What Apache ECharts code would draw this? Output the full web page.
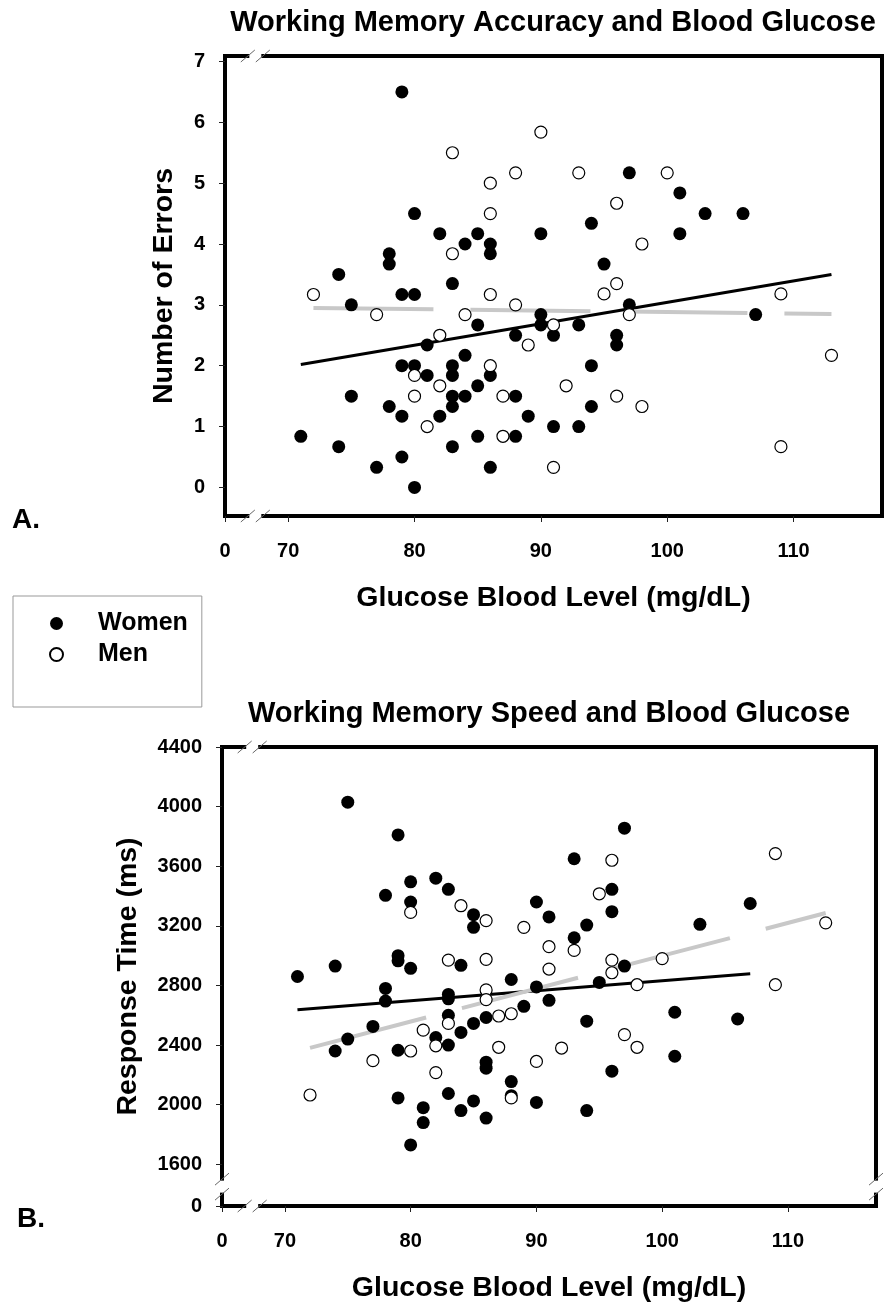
<!DOCTYPE html>
<html>
<head>
<meta charset="utf-8">
<title>Working Memory and Blood Glucose</title>
<script src="https://cdn.jsdelivr.net/npm/echarts@6.0.0/dist/echarts.min.js"></script>
<style>
html, body { margin: 0; padding: 0; background: #fff; }
#main { width: 885px; height: 1304px; }
</style>
</head>
<body>
<div id="main"></div>
<script>
// A. 错误数 (glucose mg/dL, errors)
var womenErrors = [
    [79,6.5],[80,4.5],[82,4.17],[85,4.17],[84,4.0],[86,4.0],[86,3.84],[90,4.17],
    [78,3.84],[78,3.67],[74,3.5],[83,3.35],[79,3.17],[80,3.17],[97,5.17],[101,4.84],
    [103,4.5],[106,4.5],[101,4.17],[94,4.34],[95,3.67],[75,3.0],[85,2.67],[81,2.34],
    [88,2.5],[90,2.84],[90,2.67],[91,2.5],[84,2.17],[79,2.0],[80,2.0],[83,2.0],
    [81,1.84],[83,1.84],[86,1.84],[85,1.67],[75,1.5],[83,1.5],[84,1.5],[88,1.5],
    [78,1.33],[83,1.33],[79,1.17],[82,1.17],[89,1.17],[91,1.0],[71,0.84],[85,0.84],
    [88,0.84],[74,0.67],[83,0.67],[79,0.5],[77,0.33],[86,0.33],[80,0],[97,3.0],
    [93,2.67],[96,2.5],[96,2.34],[94,2.0],[94,1.33],[93,1.0],[107,2.84]
];
var menErrors = [
    [83,5.5],[90,5.84],[88,5.17],[86,5.0],[86,4.5],[83,3.84],[72,3.17],[86,3.17],
    [93,5.17],[100,5.17],[96,4.67],[98,4.0],[96,3.35],[95,3.18],[109,3.18],[77,2.84],
    [88,3.0],[84,2.84],[82,2.5],[89,2.34],[80,1.84],[86,2.0],[82,1.67],[80,1.5],
    [87,1.5],[81,1.0],[87,0.84],[91,0.33],[97,2.84],[91,2.67],[92,1.67],[96,1.5],
    [98,1.33],[109,0.67],[113,2.17]
];
var womenErrorsFit = [[71,2.02],[113,3.5]];
var menErrorsFit = [[72,2.95],[113,2.85]];

// B. 反应时间 (glucose mg/dL, ms)
var womenRT = [
    [75,4030],[79,3810],[80,3495],[82,3520],[83,3445],[78,3405],[80,3360],[85,3275],
    [85,3190],[90,3360],[91,3260],[79,3000],[79,2965],[80,2915],[74,2930],[71,2860],
    [84,2935],[88,2840],[90,2790],[78,2780],[83,2740],[78,2695],[83,2710],[91,2700],
    [89,2660],[77,2525],[75,2440],[74,2360],[79,2365],[82,2450],[83,2600],[83,2400],
    [84,2485],[85,2545],[86,2585],[86,2285],[86,2245],[88,2155],[88,2060],[90,2015],
    [79,2045],[81,1980],[81,1880],[83,2075],[84,1960],[85,2025],[86,1910],[80,1730],
    [95,2820],[94,2560],[101,2620],[106,2575],[101,2325],[96,2225],[94,1960],[97,3855],
    [93,3650],[96,3445],[96,3295],[94,3205],[107,3350],[103,3210],[93,3120],[97,2930]
];
var menRT = [
    [80,3290],[84,3335],[86,3235],[89,3190],[83,2970],[86,2975],[86,2770],[86,2705],
    [77,2295],[72,2065],[80,2360],[81,2500],[82,2395],[83,2545],[87,2595],[88,2610],
    [87,2385],[82,2215],[88,2045],[90,2290],[98,2805],[109,2805],[97,2470],[98,2385],
    [92,2380],[96,3640],[109,3685],[95,3415],[113,3220],[91,3060],[93,3035],[91,2910],
    [96,2970],[96,2885],[100,2980]
];
var womenRTFit = [[71,2637],[107,2879]];
var menRTFit = [[72,2381],[113,3286]];

// 刻度 (0 画在断轴的起点)
var xTicks = [0, 70, 80, 90, 100, 110];
var errTicks = [0, 1, 2, 3, 4, 5, 6, 7];
var rtTicks = [0, 1600, 2000, 2400, 2800, 3200, 3600, 4000, 4400];

var FONT = 'Liberation Sans, Arial, Helvetica, sans-serif';
var X_MIN = 65, X_MAX = 117, X_BREAK = 67.4;
var ERR_MIN = -0.47, ERR_MAX = 7.09;
var RT_MIN = 1320, RT_MAX = 4400, RT_BREAK = 1450;

//0 -> axis min (broken axis)
function brokenTicks(ticks, min){
    var res = [];
    for(var i = 0; i < ticks.length; i++){
        res[i] = ticks[i] === 0 ? min : ticks[i];
    }
    return res;
}

function frameLine(){
    return {show: true, onZero: false, lineStyle: {color: '#000', width: 4, cap: 'square'}};
}

function mainAxis(grid, pos, min, max, ticks, fmt, name, gap){
    return {
        type: 'value', gridIndex: grid, position: pos, min: min, max: max,
        splitLine: {show: false},
        axisLine: frameLine(),
        axisTick: {show: true, length: 6, customValues: ticks, lineStyle: {color: '#222', width: 1}},
        axisLabel: {
            customValues: ticks, formatter: fmt, margin: pos === 'bottom' ? 25 : 20,
            color: '#000', fontFamily: FONT, fontWeight: 'bold', fontSize: 20
        },
        name: name, nameLocation: 'middle', nameGap: gap,
        nameTextStyle: {color: '#000', fontFamily: FONT, fontWeight: 'bold', fontSize: 28.5}
    };
}

function edgeAxis(grid, pos, min, max){
    return {
        type: 'value', gridIndex: grid, position: pos, min: min, max: max,
        splitLine: {show: false}, axisLine: frameLine(),
        axisTick: {show: false}, axisLabel: {show: false}
    };
}

function scatter(name, data, xi, yi, filled){
    return {
        type: 'scatter', name: name, xAxisIndex: xi, yAxisIndex: yi, data: data,
        symbol: 'circle', symbolSize: filled ? 13 : 12, z: 3,
        itemStyle: filled ? {color: '#000', opacity: 1} : {color: '#fff', borderColor: '#000', borderWidth: 1.2, opacity: 1},
        emphasis: {disabled: true}
    };
}

function fitLine(name, data, xi, yi, grey){
    return {
        type: 'line', name: name, xAxisIndex: xi, yAxisIndex: yi, data: data,
        showSymbol: false, symbol: 'none', z: 2, silent: true,
        lineStyle: grey ? {color: '#c8c8c8', width: 4, type: [120, 37]} : {color: '#000', width: 3}
    };
}

var xFmt = function(v){ return v < 69 ? '0' : v; };
var rtFmt = function(v){ return v < 1500 ? '0' : v; };
var titleStyle = {color: '#000', fontFamily: FONT, fontWeight: 'bold', fontSize: 29};
var tagStyle = {color: '#000', fontFamily: FONT, fontWeight: 'bold', fontSize: 28};

var option = {
    animation: false,
    backgroundColor: '#fff',
    title: [
        {text: 'Working Memory Accuracy and Blood Glucose', left: 553, top: 8, textAlign: 'center', padding: 0, textStyle: titleStyle},
        {text: 'Working Memory Speed and Blood Glucose', left: 549, top: 699, textAlign: 'center', padding: 0, textStyle: titleStyle},
        {text: 'A.', left: 12, top: 506, padding: 0, textStyle: tagStyle},
        {text: 'B.', left: 17, top: 1205, padding: 0, textStyle: tagStyle}
    ],
    legend: {
        data: ['Women', 'Men'], orient: 'vertical', left: 13, top: 596,
        icon: 'circle', itemWidth: 13, itemHeight: 13, itemGap: 6,
        padding: [15, 14, 40, 36], borderColor: '#999', borderWidth: 1,
        selectedMode: false,
        textStyle: {color: '#000', fontFamily: FONT, fontWeight: 'bold', fontSize: 25, lineHeight: 25, padding: [0, 0, 0, 30]}
    },
    grid: [
        {left: 225, top: 56, right: 3, bottom: 788},
        {left: 222, top: 747, right: 9, bottom: 98}
    ],
    xAxis: [
        mainAxis(0, 'bottom', X_MIN, X_MAX, brokenTicks(xTicks, X_MIN), xFmt, 'Glucose Blood Level (mg/dL)', 68),
        edgeAxis(0, 'top', X_MIN, X_MAX),
        mainAxis(1, 'bottom', X_MIN, X_MAX, brokenTicks(xTicks, X_MIN), xFmt, 'Glucose Blood Level (mg/dL)', 68),
        edgeAxis(1, 'top', X_MIN, X_MAX)
    ],
    yAxis: [
        mainAxis(0, 'left', ERR_MIN, ERR_MAX, errTicks, null, 'Number of Errors', 46),
        edgeAxis(0, 'right', ERR_MIN, ERR_MAX),
        mainAxis(1, 'left', RT_MIN, RT_MAX, brokenTicks(rtTicks, RT_MIN), rtFmt, 'Response Time (ms)', 79),
        edgeAxis(1, 'right', RT_MIN, RT_MAX)
    ],
    series: [
        fitLine('fitWomenA', womenErrorsFit, 0, 0, false),
        fitLine('fitMenA', menErrorsFit, 0, 0, true),
        scatter('Women', womenErrors, 0, 0, true),
        scatter('Men', menErrors, 0, 0, false),
        fitLine('fitWomenB', womenRTFit, 2, 2, false),
        fitLine('fitMenB', menRTFit, 2, 2, true),
        scatter('Women', womenRT, 2, 2, true),
        scatter('Men', menRT, 2, 2, false)
    ]
};

var myChart = echarts.init(document.getElementById('main'), null, {renderer: 'canvas'});
myChart.setOption(option);

// 断轴标记 //
function breakMark(p, vertical){
    var els = [];
    els.push({
        type: 'rect', z: 100,
        shape: vertical ? {x: p[0] - 5, y: p[1] - 6, width: 10, height: 12} : {x: p[0] - 6, y: p[1] - 5, width: 12, height: 10},
        style: {fill: '#fff'}
    });
    var offs = [-7.5, 7.5];
    for(var i = 0; i < offs.length; i++){
        var cx = vertical ? p[0] : p[0] + offs[i];
        var cy = vertical ? p[1] + offs[i] : p[1];
        els.push({
            type: 'line', z: 101,
            shape: {x1: cx - 7, y1: cy + 6, x2: cx + 7, y2: cy - 6},
            style: {stroke: '#666', lineWidth: 1}
        });
    }
    return els;
}

var gA = {xAxisIndex: 0, yAxisIndex: 0};
var gB = {xAxisIndex: 2, yAxisIndex: 2};
var marks = [].concat(
    breakMark(myChart.convertToPixel(gA, [X_BREAK, ERR_MAX]), false),
    breakMark(myChart.convertToPixel(gA, [X_BREAK, ERR_MIN]), false),
    breakMark(myChart.convertToPixel(gB, [X_BREAK, RT_MAX]), false),
    breakMark(myChart.convertToPixel(gB, [X_BREAK, RT_MIN]), false),
    breakMark(myChart.convertToPixel(gB, [X_MIN, RT_BREAK]), true),
    breakMark(myChart.convertToPixel(gB, [X_MAX, RT_BREAK]), true)
);
myChart.setOption({graphic: marks});
</script>
</body>
</html>
